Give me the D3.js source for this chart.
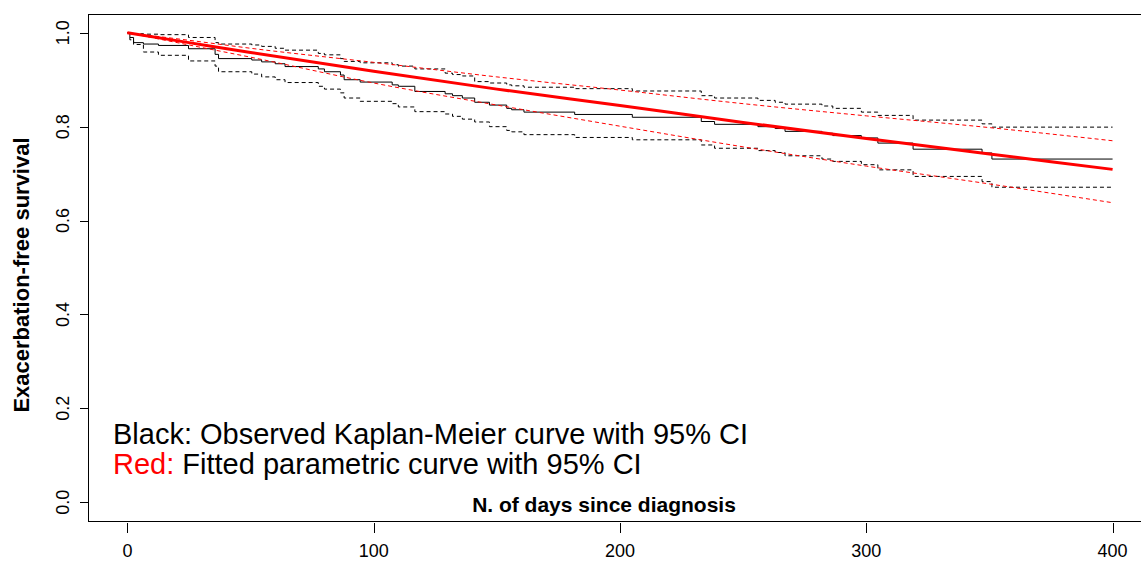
<!DOCTYPE html>
<html>
<head>
<meta charset="utf-8">
<script src="https://cdn.jsdelivr.net/npm/d3@7"></script>
<style>
  html, body { margin: 0; padding: 0; background: #fff; }
  svg { display: block; font-family: "Liberation Sans", Arial, sans-serif; }
</style>
</head>
<body>
<svg id="chart" width="1141" height="561"></svg>
<script>
// Kaplan-Meier estimate: event days and survival after each event
const kmDays  = [0, 1, 2.5, 6.5, 12.6, 24.8, 35.6, 37, 50.5, 54.5, 60, 64, 77.5, 80, 86.5, 88, 94.5, 107.5, 110, 116.7, 129, 132, 136, 141, 147, 154, 156, 161, 181.6, 205, 233, 238.4, 256, 263, 267, 282, 286.4, 298, 304.7, 319, 347, 351];
const kmSurv  = [1, 0.990, 0.979, 0.976, 0.973, 0.966, 0.954, 0.945, 0.942, 0.938, 0.934, 0.928, 0.923, 0.917, 0.910, 0.900, 0.895, 0.889, 0.886, 0.875, 0.870, 0.866, 0.861, 0.852, 0.846, 0.839, 0.836, 0.831, 0.826, 0.820, 0.811, 0.805, 0.800, 0.796, 0.790, 0.786, 0.781, 0.776, 0.765, 0.752, 0.744, 0.731];
const kmLower = [1, 0.985, 0.975, 0.959, 0.952, 0.940, 0.929, 0.917, 0.912, 0.906, 0.900, 0.894, 0.886, 0.880, 0.872, 0.861, 0.854, 0.849, 0.842, 0.832, 0.827, 0.822, 0.816, 0.810, 0.800, 0.792, 0.789, 0.783, 0.777, 0.772, 0.761, 0.754, 0.749, 0.745, 0.738, 0.731, 0.726, 0.719, 0.708, 0.694, 0.683, 0.671];
const kmUpper = [1, 1.000, 0.998, 0.997, 0.996, 0.990, 0.979, 0.976, 0.974, 0.971, 0.967, 0.963, 0.956, 0.953, 0.945, 0.939, 0.936, 0.932, 0.929, 0.923, 0.914, 0.911, 0.908, 0.896, 0.893, 0.889, 0.887, 0.884, 0.881, 0.876, 0.866, 0.861, 0.856, 0.852, 0.848, 0.844, 0.839, 0.831, 0.824, 0.814, 0.806, 0.799];
const lastFollowUp = 400;

// Fitted parametric survival with its 95% band
const fitDays  = [0, 25, 50, 100, 150, 200, 250, 300, 350, 400];
const fitSurv  = [1, 0.979, 0.958, 0.918, 0.880, 0.845, 0.809, 0.775, 0.742, 0.709];
const fitLower = [1, 0.974, 0.948, 0.893, 0.846, 0.801, 0.757, 0.716, 0.678, 0.638];
const fitUpper = [1, 0.984, 0.967, 0.937, 0.906, 0.878, 0.849, 0.823, 0.798, 0.770];

const xTicks = [0, 100, 200, 300, 400];
const yTicks = [0, 0.2, 0.4, 0.6, 0.8, 1.0];

const svg = d3.select("#chart");
const plotLeft = 88, plotRight = 1152, plotTop = 14, plotBottom = 521;

const x = d3.scaleLinear().domain([-16, 416]).range([plotLeft, plotRight]);
const y = d3.scaleLinear().domain([-0.04, 1.04]).range([plotBottom, plotTop]);

svg.append("defs").append("clipPath").attr("id", "plotArea")
  .append("rect").attr("x", plotLeft).attr("y", plotTop)
  .attr("width", plotRight - plotLeft).attr("height", plotBottom - plotTop);

const plot = svg.append("g").attr("clip-path", "url(#plotArea)");

// step curves for Kaplan-Meier and its confidence limits
function stepPoints(vals) {
  const pts = kmDays.map((d, i) => [d, vals[i]]);
  pts.push([lastFollowUp, vals[vals.length - 1]]);
  return pts;
}
const stepLine = d3.line().x(d => x(d[0])).y(d => y(d[1])).curve(d3.curveStepAfter);

[kmLower, kmUpper].forEach(vals => {
  plot.append("path").attr("d", stepLine(stepPoints(vals)))
    .attr("fill", "none").attr("stroke", "#000").attr("stroke-width", 1)
    .attr("stroke-dasharray", "4,3");
});
plot.append("path").attr("d", stepLine(stepPoints(kmSurv)))
  .attr("fill", "none").attr("stroke", "#000").attr("stroke-width", 1);

// fitted curve and band
const fitLine = d3.line().x(d => x(d[0])).y(d => y(d[1])).curve(d3.curveMonotoneX);
[fitLower, fitUpper].forEach(vals => {
  plot.append("path").attr("d", fitLine(fitDays.map((d, i) => [d, vals[i]])))
    .attr("fill", "none").attr("stroke", "#ff0000").attr("stroke-width", 1)
    .attr("stroke-dasharray", "4,3");
});
plot.append("path").attr("d", fitLine(fitDays.map((d, i) => [d, fitSurv[i]])))
  .attr("fill", "none").attr("stroke", "#ff0000").attr("stroke-width", 3);

// frame
svg.append("rect").attr("x", plotLeft + 0.5).attr("y", plotTop + 0.5)
  .attr("width", plotRight - plotLeft).attr("height", plotBottom - plotTop)
  .attr("fill", "none").attr("stroke", "#000").attr("stroke-width", 1);

// y axis
const yAxis = svg.append("g");
yTicks.forEach(t => {
  const yy = Math.round(y(t)) + 0.5;
  yAxis.append("line").attr("x1", plotLeft - 8).attr("x2", plotLeft).attr("y1", yy).attr("y2", yy)
    .attr("stroke", "#000");
  yAxis.append("text").attr("transform", `translate(69,${y(t)}) rotate(-90)`)
    .attr("text-anchor", "middle").attr("font-size", 18).text(d3.format(".1f")(t));
});

// x axis ticks sit just under the frame
const xAxis = svg.append("g");
xTicks.forEach(t => {
  const xx = Math.round(x(t)) + 0.5;
  xAxis.append("line").attr("x1", xx).attr("x2", xx).attr("y1", 523).attr("y2", 533)
    .attr("stroke", "#000");
  xAxis.append("text").attr("x", x(t)).attr("y", 557)
    .attr("text-anchor", "middle").attr("font-size", 18).text(t);
});

// axis titles
svg.append("text").attr("transform", "translate(29,275) rotate(-90)")
  .attr("text-anchor", "middle").attr("font-size", 22).attr("font-weight", "bold")
  .text("Exacerbation-free survival");
svg.append("text").attr("x", 604).attr("y", 512)
  .attr("text-anchor", "middle").attr("font-size", 21).attr("font-weight", "bold")
  .text("N. of days since diagnosis");

// legend text
svg.append("text").attr("x", 113).attr("y", 444).attr("font-size", 29)
  .text("Black: Observed Kaplan-Meier curve with 95% CI");
const l2 = svg.append("text").attr("x", 113).attr("y", 474).attr("font-size", 29);
l2.append("tspan").attr("fill", "#ff0000").text("Red:");
l2.append("tspan").attr("fill", "#000").text(" Fitted parametric curve with 95% CI");
</script>
</body>
</html>
